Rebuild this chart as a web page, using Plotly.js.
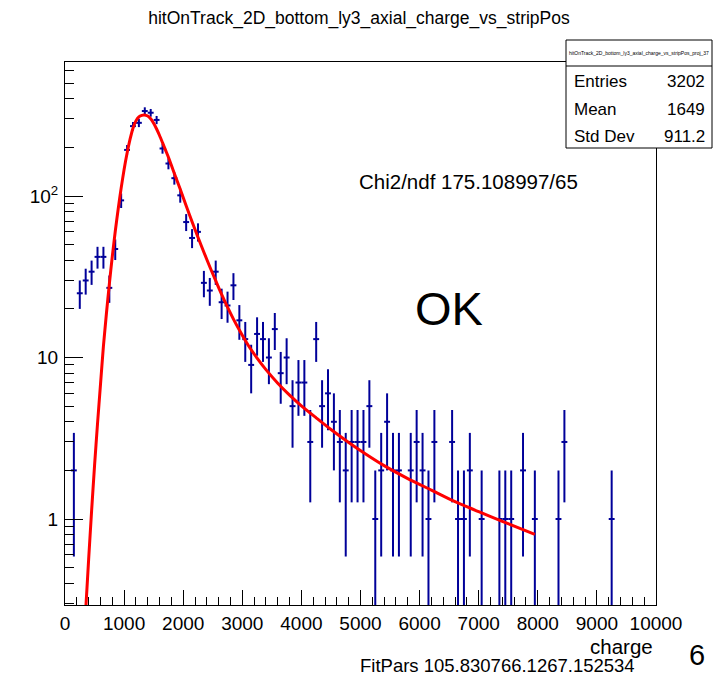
<!DOCTYPE html>
<html><head><meta charset="utf-8">
<script src="https://cdn.plot.ly/plotly-3.0.1.min.js"></script>
<style>html,body{margin:0;padding:0;background:#fff}#chart{width:717px;height:677px}</style>
</head><body><div id="chart"></div><script>
// histogram bins (bin centers, entries); empty bins omitted
const binCenters = [150,250,350,450,550,650,750,850,950,1050,1150,1250,1350,1450,1550,1650,1750,1850,1950,2050,
  2150,2250,2350,2450,2550,2650,2750,2850,2950,3050,3150,3250,3350,3450,3550,3650,3750,3850,3950,4050,
  4150,4250,4350,4450,4550,4650,4750,4850,4950,5050,5150,5250,5350,5450,5550,5650,5850,5950,6050,6150,
  6250,6550,6650,6750,6850,7050,7350,7450,7550,7750,7950,8350,8450,9250];
const binCounts = [2,25,30,34,42,42,27,47,94,193,271,284,336,328,296,197,159,129,101,69,
  55,60,29,26,34,22,21,28,17,13,9,14,13,10,15,8,10,5,7,7,
  3,13,5,6,4,3,2,3,3,3,5,1,2,4,2,2,2,3,2,1,
  3,3,1,1,2,1,1,1,1,2,1,1,3,1];
const binHalfWidth = 50;
const binErrors = binCounts.map(Math.sqrt);

// fit curve
const fitCharge = [350,400,450,500,550,600,650,700,750,800,850,900,950,1000,1050,1100,1150,1200,1250,1300,1340,
  1400,1450,1500,1550,1600,1650,1700,1750,1800,1850,1950,2050,2150,2250,2350,2450,2550,2650,2750,2850,2950,
  3100,3250,3400,3600,3800,4000,4250,4500,4800,5100,5400,5800,6200,6600,7000,7400,7950];
const fitValue = [0.272,0.562,1.122,2.14,3.89,6.76,11.75,18.6,28.5,42.2,60.3,83.2,112,146,184,224,263,292,309,316,318,
  313,301,282,260,237,214,193,174,155,138,110,87.1,69.2,55.6,44.9,36.5,29.9,24.6,20.5,17.3,14.8,
  11.9,9.91,8.41,6.93,5.85,5.02,4.23,3.58,2.98,2.51,2.14,1.78,1.51,1.28,1.11,0.966,0.804];

const xTickVals = [0,1000,2000,3000,4000,5000,6000,7000,8000,9000,10000];
const xTickText = ['0','1000','2000','3000','4000','5000','6000','7000','8000','9000','10000'];
const yTickVals = [1,10,100];
const yTickText = ['1','10','10<sup>2</sup>'];
const yMinorVals = [0.3,0.4,0.5,0.6,0.7,0.8,0.9,2,3,4,5,6,7,8,9,20,30,40,50,60,70,80,90,200,300,400,500,600];

const titleText = 'hitOnTrack_2D_bottom_ly3_axial_charge_vs_stripPos';
const statsTitle = 'hitOnTrack_2D_bottom_ly3_axial_charge_vs_stripPos_proj_37';
const statsNames = ['Entries','Mean','Std Dev'];
const statsValues = ['3202','1649','911.2'];

const F = 'Liberation Sans, Arial, Helvetica, sans-serif';
const L = 65, R = 656, T = 62, B = 605;
const px = x => (x - L) / (R - L);
const py = y => (B - y) / (B - T);

const traces = [
  {x: binCenters, y: binCounts, type: 'scatter', mode: 'markers',
   marker: {size: 1, color: '#000099'},
   error_y: {type: 'data', array: binErrors, color: '#000099', thickness: 2, width: 0},
   error_x: {type: 'constant', value: binHalfWidth, color: '#000099', thickness: 2, width: 0},
   hoverinfo: 'skip', showlegend: false},
  {x: fitCharge, y: fitValue, type: 'scatter', mode: 'lines',
   line: {color: '#ff0000', width: 3, shape: 'spline', smoothing: 0.6},
   hoverinfo: 'skip', showlegend: false},
  {x: [5000], y: [1], yaxis: 'y2', type: 'scatter', mode: 'markers', marker: {size: 0, opacity: 0}, hoverinfo: 'skip', showlegend: false}
];

const yr = [-0.5325, 2.830];
const annotations = [
  {text: 'Chi2/ndf 175.108997/65', x: px(357), y: py(181), xanchor: 'left', yanchor: 'middle', font: {size: 20.5}},
  {text: 'OK', x: px(413), y: py(308), xanchor: 'left', yanchor: 'middle', font: {size: 47}},
  {text: 'charge', x: px(655), y: py(633), xanchor: 'right', yanchor: 'top', font: {size: 20.5}},
  {text: 'FitPars 105.830766.1267.152534', x: px(358), y: py(665), xanchor: 'left', yanchor: 'middle', font: {size: 18.5}},
  {text: '6', x: px(697), y: py(655), xanchor: 'center', yanchor: 'middle', font: {size: 29}},
  {text: statsTitle, x: px(639), y: py(53), xanchor: 'center', yanchor: 'middle', font: {size: 5}}
];
const rowY = [81, 109, 136];
statsNames.forEach((n, i) => {
  annotations.push({text: n, x: px(572), y: py(rowY[i]), xanchor: 'left', yanchor: 'middle', font: {size: 17}});
  annotations.push({text: statsValues[i], x: px(707), y: py(rowY[i]), xanchor: 'right', yanchor: 'middle', font: {size: 17}});
});
annotations.forEach(a => { a.xref = 'paper'; a.yref = 'paper'; a.showarrow = false; a.font.family = F; a.font.color = '#000'; });

const layout = {
  width: 717, height: 677,
  margin: {l: L, r: 717 - R, t: T, b: 677 - B},
  paper_bgcolor: '#fff', plot_bgcolor: '#fff',
  font: {family: F, color: '#000'},
  title: {text: titleText, x: 359 / 717, y: 1 - 18 / 677, xref: 'container', yref: 'container', xanchor: 'center', yanchor: 'middle', font: {size: 17.5, family: F, color: '#000'}},
  xaxis: {range: [0, 10000], tickvals: xTickVals, ticktext: xTickText, ticks: 'inside', ticklen: 15, tickwidth: 1, tickcolor: '#000',
    minor: {dtick: 200, tick0: 0, ticks: 'inside', ticklen: 8, tickwidth: 1, tickcolor: '#000', showgrid: false},
    showgrid: false, zeroline: false, showline: true, linecolor: '#000', linewidth: 1, mirror: true,
    tickfont: {size: 19, family: F}, ticklabelstandoff: 1},
  yaxis: {type: 'log', range: yr, tickvals: yTickVals, ticktext: yTickText, ticks: 'inside', ticklen: 18, tickwidth: 1, tickcolor: '#000',
    showgrid: false, zeroline: false, showline: true, linecolor: '#000', linewidth: 1, mirror: true,
    tickfont: {size: 19, family: F}, ticklabelstandoff: 2},
  yaxis2: {type: 'log', range: yr, overlaying: 'y', side: 'left', tickvals: yMinorVals, ticks: 'inside', ticklen: 9, tickwidth: 1, tickcolor: '#000',
    showticklabels: false, showgrid: false, zeroline: false, showline: false},
  shapes: [
    {type: 'rect', xref: 'paper', yref: 'paper', x0: px(566), x1: px(712), y0: py(148), y1: py(40), fillcolor: '#fff', line: {color: '#000', width: 1}, layer: 'above'},
    {type: 'line', xref: 'paper', yref: 'paper', x0: px(566), x1: px(712), y0: py(66), y1: py(66), line: {color: '#000', width: 1}, layer: 'above'}
  ],
  annotations: annotations
};

Plotly.newPlot('chart', traces, layout, {staticPlot: true, displayModeBar: false});
</script></body></html>
